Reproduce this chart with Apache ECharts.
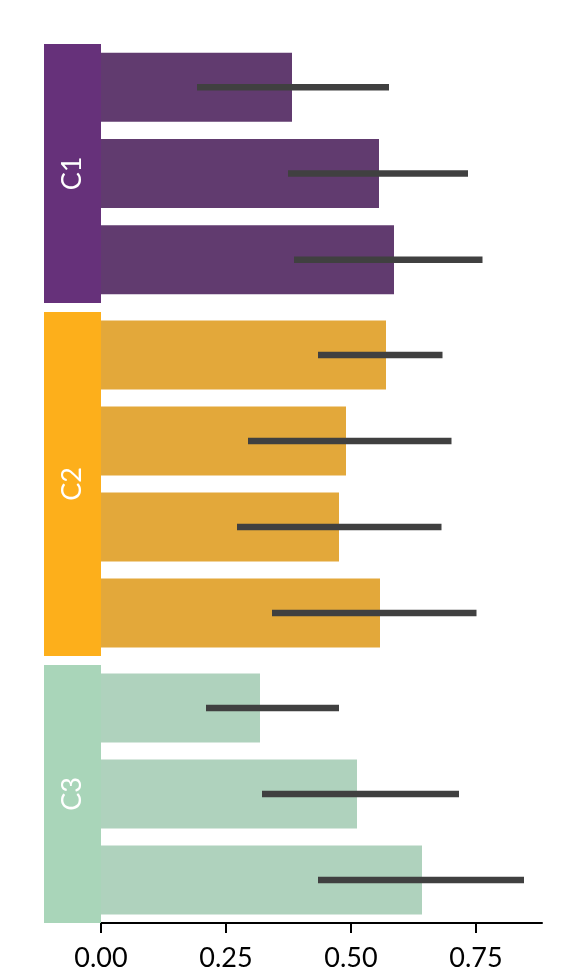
<!DOCTYPE html>
<html>
<head>
<meta charset="utf-8">
<script src="https://cdn.jsdelivr.net/npm/echarts@6/dist/echarts.min.js"></script>
<style>
    html, body { margin: 0; padding: 0; background: #fff; }
    #chart { width: 584px; height: 968px; }
</style>
</head>
<body>
<div id="chart"></div>
<script>
// groups and their member bars (top to bottom)
const groups = ['C1', 'C2', 'C3']
const groupSizes = [3, 4, 3]
const means = [0.382, 0.556, 0.586, 0.570, 0.490, 0.476, 0.558, 0.318, 0.512, 0.642]
const lower = [0.192, 0.374, 0.386, 0.434, 0.294, 0.272, 0.342, 0.210, 0.322, 0.434]
const upper = [0.576, 0.734, 0.763, 0.683, 0.701, 0.681, 0.751, 0.476, 0.716, 0.846]
const tickValues = [0, 0.25, 0.5, 0.75]

const stripColors = ['#66317a', '#fdaf1b', '#a9d5b9']
const barColors = ['#613b6f', '#e3a83a', '#afd2bd']
const errColor = '#404040'
const FONT = 'Lato'

// pixel bands of each group (top, height)
const bands = [[44, 259], [312, 344], [665, 258]]
const xMax = 0.882

const grid = []
const xAxis = []
const yAxis = []
const series = []

let start = 0
groups.forEach((g, gi) => {
    const n = groupSizes[gi]
    const cats = []
    for (let i = 0; i < n; i++) cats.push(g + '_' + i)
    const vals = means.slice(start, start + n)
    const errs = []
    for (let i = 0; i < n; i++) errs.push([i, lower[start + i], upper[start + i]])
    start += n
    const isLast = gi === groups.length - 1

    // main bars grid
    grid.push({left: 101, right: 42, top: bands[gi][0], height: bands[gi][1], outerBoundsMode: 'none'})
    xAxis.push({
        type: 'value', gridIndex: gi * 2, min: 0, max: xMax,
        show: isLast,
        splitLine: {show: false},
        axisLine: {show: true, lineStyle: {color: '#000', width: 2}},
        axisTick: {show: true, length: 10, lineStyle: {color: '#000', width: 2}, customValues: tickValues},
        axisLabel: {
            show: true, customValues: tickValues, margin: 22,
            fontFamily: FONT, fontSize: 27, color: '#000',
            formatter: v => v.toFixed(2)
        }
    })
    yAxis.push({type: 'category', gridIndex: gi * 2, data: cats, inverse: true, show: false})
    series.push({
        type: 'bar', xAxisIndex: gi * 2, yAxisIndex: gi * 2,
        data: vals, barCategoryGap: '20%',
        itemStyle: {color: barColors[gi]},
        silent: true
    })
    series.push({
        type: 'custom', xAxisIndex: gi * 2, yAxisIndex: gi * 2,
        data: errs,
        encode: {y: 0, x: [1, 2]},
        renderItem: function (params, api) {
            const a = api.coord([api.value(1), api.value(0)])
            const b = api.coord([api.value(2), api.value(0)])
            return {
                type: 'line',
                shape: {x1: a[0], y1: a[1], x2: b[0], y2: b[1]},
                style: {stroke: errColor, lineWidth: 6.5, lineCap: 'butt'}
            }
        },
        z: 5,
        silent: true
    })

    // group strip grid
    grid.push({left: 44, width: 57, top: bands[gi][0], height: bands[gi][1], outerBoundsMode: 'none'})
    xAxis.push({type: 'value', gridIndex: gi * 2 + 1, min: 0, max: 1, show: false})
    yAxis.push({type: 'category', gridIndex: gi * 2 + 1, data: [g], show: false})
    series.push({
        type: 'bar', xAxisIndex: gi * 2 + 1, yAxisIndex: gi * 2 + 1,
        data: [1], barWidth: '100%',
        itemStyle: {color: stripColors[gi]},
        label: {
            show: true, position: 'inside', rotate: 90,
            formatter: g, color: '#fff', fontFamily: FONT, fontSize: 27
        },
        silent: true
    })
})

const chart = echarts.init(document.getElementById('chart'), null, {renderer: 'canvas'})
chart.setOption({
    animation: false,
    backgroundColor: '#fff',
    grid: grid,
    xAxis: xAxis,
    yAxis: yAxis,
    series: series
})
</script>
</body>
</html>
